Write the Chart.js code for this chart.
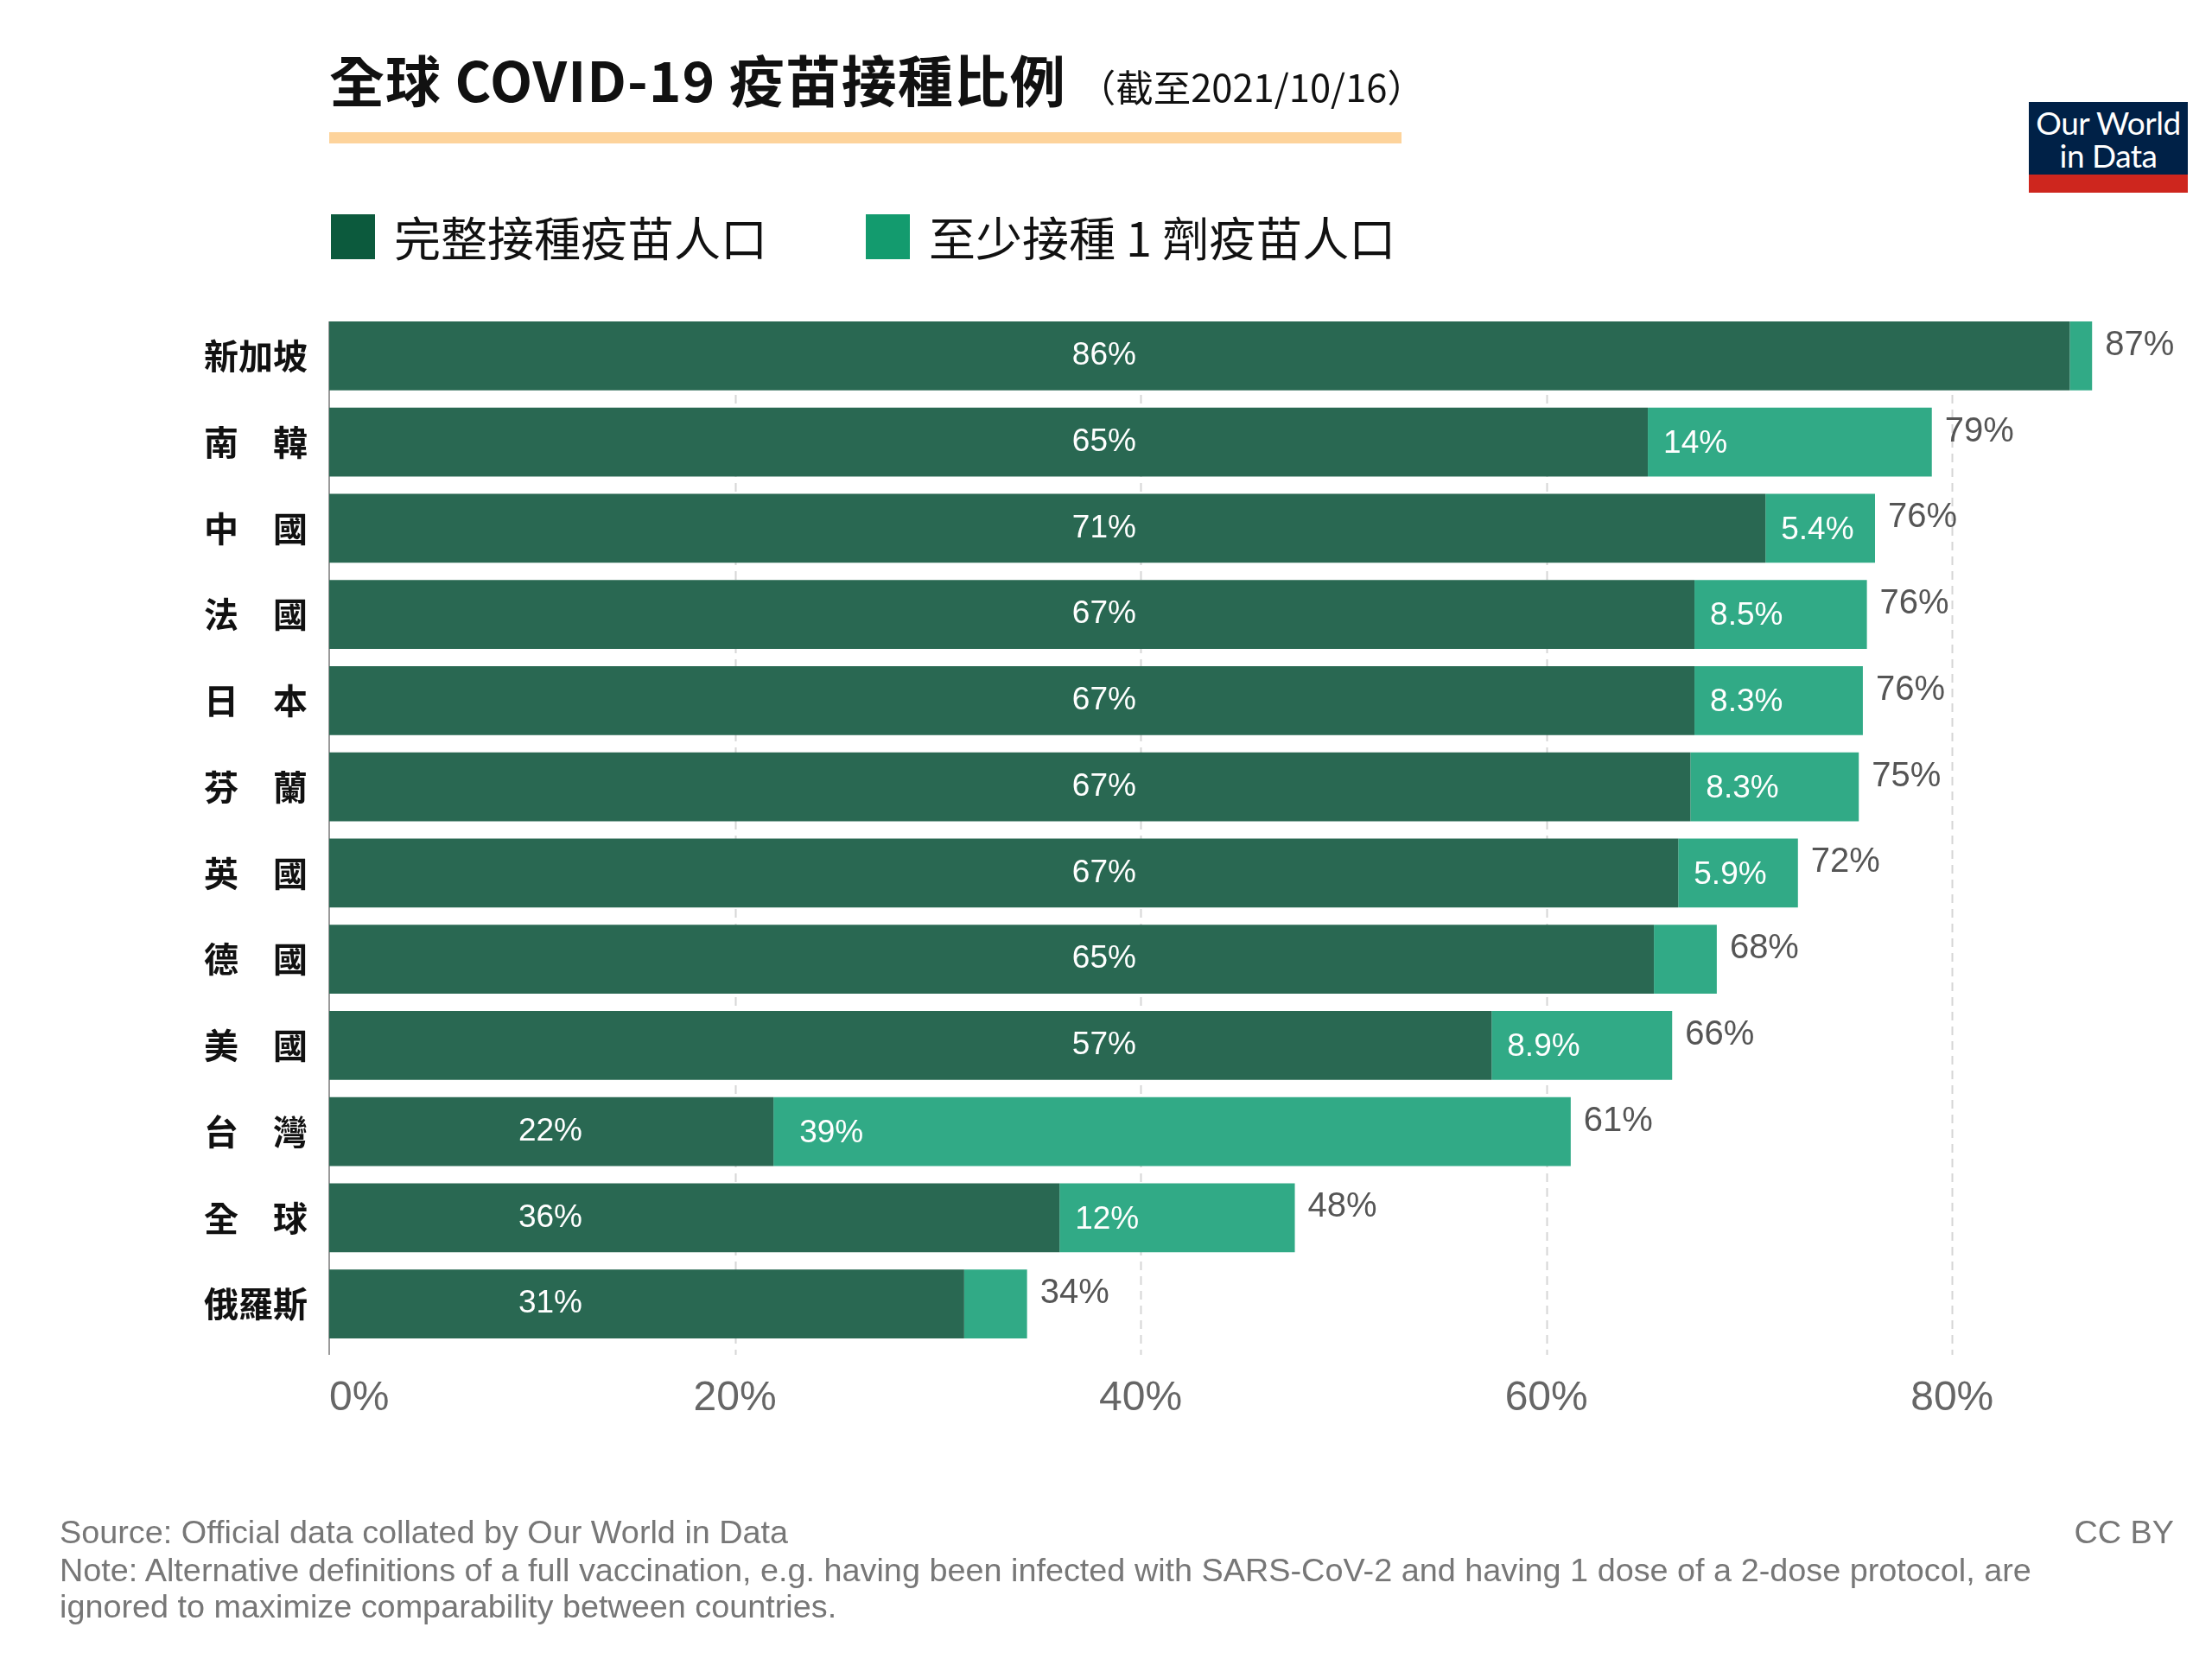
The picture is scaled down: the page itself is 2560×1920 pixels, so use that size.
<!DOCTYPE html>
<html>
<head>
<meta charset="utf-8">
<script src="https://cdn.jsdelivr.net/npm/chart.js@4"></script>
<style>
  html, body { margin: 0; padding: 0; background: #fff; }
  #page { position: relative; width: 2560px; height: 1920px; overflow: hidden; background: #fff; }
  #chart { position: absolute; left: 0; top: 0; width: 2560px; height: 1920px; }
  .abs { position: absolute; white-space: nowrap; }
  #title { left: 381px; top: 52px; font-family: "Noto Sans CJK TC", sans-serif; font-weight: 700; font-size: 64px; line-height: 76px; color: #111; letter-spacing: 1px; }
  #title .sub { font-weight: 400; font-size: 43.5px; color: #111; letter-spacing: 0; margin-left: 14px; }
  #rule { left: 381px; top: 153px; width: 1241px; height: 13px; background: #fdd39b; }
  #legend { left: 383px; top: 234px; font-family: "Noto Sans CJK TC", sans-serif; font-size: 54px; color: #111; display: flex; align-items: center; }
  .lg-item { display: flex; align-items: center; margin-right: 114px; }
  .lg-box { width: 51px; height: 52px; margin-right: 22px; }
  #logo { left: 2348px; top: 118px; width: 184px; height: 105px; }
  #logo .navy { position: absolute; left: 0; top: 0; width: 184px; height: 84px; background: #002147; color: #fff; font-family: Lato, "Open Sans", sans-serif; font-size: 37px; line-height: 38px; text-align: center; padding-top: 5px; box-sizing: border-box; letter-spacing: -0.5px; }
  #logo .red { position: absolute; left: 0; top: 84px; width: 184px; height: 21px; background: #ce261e; }
  .foot { font-family: "Liberation Sans", Arial, sans-serif; font-size: 37.8px; color: #777; line-height: 42px; }
</style>
</head>
<body>
<div id="page">
  <canvas id="chart" width="2560" height="1920"></canvas>
  <div id="title" class="abs">全球 COVID-19 疫苗接種比例<span class="sub">（截至2021/10/16）</span></div>
  <div id="rule" class="abs"></div>
  <div id="legend" class="abs"></div>
  <div id="logo" class="abs"><div class="navy">Our World<br>in Data</div><div class="red"></div></div>
  <div class="abs foot" style="left:69px; top:1752px;">Source: Official data collated by Our World in Data</div>
  <div class="abs foot" style="right:44px; top:1752px;">CC BY</div>
  <div class="abs foot" style="left:69px; top:1796px;">Note: Alternative definitions of a full vaccination, e.g. having been infected with SARS-CoV-2 and having 1 dose of a 2-dose protocol, are</div>
  <div class="abs foot" style="left:69px; top:1838px;">ignored to maximize comparability between countries.</div>
</div>
<script>
// ---- data ----
const categories = ['新加坡', '南　韓', '中　國', '法　國', '日　本', '芬　蘭', '英　國', '德　國', '美　國', '台　灣', '全　球', '俄羅斯'];
const fullyVaccinated = [85.8, 65, 70.8, 67.3, 67.3, 67.1, 66.5, 65.3, 57.3, 21.9, 36.0, 31.3];
const partlyVaccinated = [1.1, 14, 5.4, 8.5, 8.3, 8.3, 5.9, 3.1, 8.9, 39.3, 11.6, 3.1];
const seriesNames = ['完整接種疫苗人口', '至少接種 1 劑疫苗人口'];
const xTickValues = [0, 20, 40, 60, 80];

// ---- styles ----
const DARK_BAR = '#296852';
const LIGHT_BAR = '#31aa86';
const LEGEND_COLORS = ['#0c5a3d', '#139b6e'];
const LABEL_FONT = '37px "Liberation Sans", Arial, sans-serif';
const TOTAL_FONT = '40px "Liberation Sans", Arial, sans-serif';
const TICK_FONT = '48px "Liberation Sans", Arial, sans-serif';

function fmt(v) { return (v < 10 ? v.toFixed(1) : String(Math.round(v))) + '%'; }

// grid lines and left axis line, drawn from the x scale, starting at the first bar's top
const gridPlugin = {
  id: 'gridAxis',
  beforeDatasetsDraw(chart) {
    const ctx = chart.ctx;
    const xs = chart.scales.x;
    const bar0 = chart.getDatasetMeta(0).data[0];
    const top = bar0.y - bar0.height / 2;
    const bottom = chart.chartArea.bottom + 9;
    ctx.save();
    ctx.lineWidth = 2;
    ctx.strokeStyle = '#d6d6d6';
    ctx.setLineDash([10, 7]);
    xTickValues.forEach(v => {
      if (v === 0) return;
      const x = Math.round(xs.getPixelForValue(v)) + 0.5;
      ctx.beginPath(); ctx.moveTo(x, top); ctx.lineTo(x, bottom); ctx.stroke();
    });
    ctx.setLineDash([]);
    ctx.strokeStyle = '#9a9a9a';
    const x0 = xs.getPixelForValue(0);
    ctx.beginPath(); ctx.moveTo(x0, top); ctx.lineTo(x0, bottom); ctx.stroke();
    ctx.restore();
  }
};

const labelPlugin = {
  id: 'barLabels',
  afterDatasetsDraw(chart) {
    const ctx = chart.ctx;
    const xs = chart.scales.x, ys = chart.scales.y;
    ctx.save();
    ctx.textBaseline = 'middle';
    categories.forEach((c, i) => {
      const f = fullyVaccinated[i], p = partlyVaccinated[i], t = f + p;
      const yc = ys.getPixelForValue(i);
      ctx.font = LABEL_FONT;
      ctx.fillStyle = '#fff';
      ctx.textAlign = 'center';
      const anchor = f > 50 ? 38.2 : 10.9;
      ctx.fillText(fmt(f), xs.getPixelForValue(anchor), yc);
      if (p >= 5) {
        ctx.textAlign = 'left';
        ctx.fillText(fmt(p), xs.getPixelForValue(f) + (p > 30 ? 30 : 18), yc + 2);
      }
      ctx.font = TOTAL_FONT;
      ctx.fillStyle = '#555';
      ctx.textAlign = 'left';
      ctx.fillText(fmt(t), xs.getPixelForValue(t) + 15, yc - 12);
    });
    ctx.font = TICK_FONT;
    ctx.fillStyle = '#666';
    xTickValues.forEach((v, k) => {
      ctx.textAlign = k === 0 ? 'left' : 'center';
      ctx.fillText(v + '%', xs.getPixelForValue(v), chart.chartArea.bottom + 60);
    });
    ctx.restore();
  }
};

const chart = new Chart(document.getElementById('chart'), {
  type: 'bar',
  data: {
    labels: categories,
    datasets: [
      { label: seriesNames[0], data: fullyVaccinated, backgroundColor: DARK_BAR, borderWidth: 0 },
      { label: seriesNames[1], data: partlyVaccinated, backgroundColor: LIGHT_BAR, borderWidth: 0 }
    ]
  },
  options: {
    indexAxis: 'y',
    responsive: false,
    animation: false,
    devicePixelRatio: 1,
    layout: { padding: { top: 362, left: 0, right: 66, bottom: 261 } },
    datasets: { bar: { barPercentage: 0.8, categoryPercentage: 1.0 } },
    plugins: { legend: { display: false }, tooltip: { enabled: false } },
    scales: {
      x: {
        stacked: true,
        min: 0, max: 90,
        afterBuildTicks(scale) { scale.ticks = xTickValues.map(v => ({ value: v })); },
        afterFit(scale) { scale.height = 100; },
        ticks: { display: false },
        grid: { display: false, drawTicks: false },
        border: { display: false }
      },
      y: {
        stacked: true,
        afterFit(scale) { scale.width = 381; },
        ticks: {
          font: { family: '"Noto Sans CJK TC", sans-serif', weight: 'bold', size: 40 },
          color: '#111',
          padding: 25
        },
        grid: { display: false, drawTicks: false },
        border: { display: false }
      }
    }
  },
  plugins: [gridPlugin, labelPlugin]
});

// HTML legend built from the datasets
const legendEl = document.getElementById('legend');
chart.data.datasets.forEach((ds, i) => {
  const item = document.createElement('div');
  item.className = 'lg-item';
  const box = document.createElement('div');
  box.className = 'lg-box';
  box.style.background = LEGEND_COLORS[i];
  const txt = document.createElement('span');
  txt.textContent = ds.label;
  item.appendChild(box);
  item.appendChild(txt);
  legendEl.appendChild(item);
});
</script>
</body>
</html>
